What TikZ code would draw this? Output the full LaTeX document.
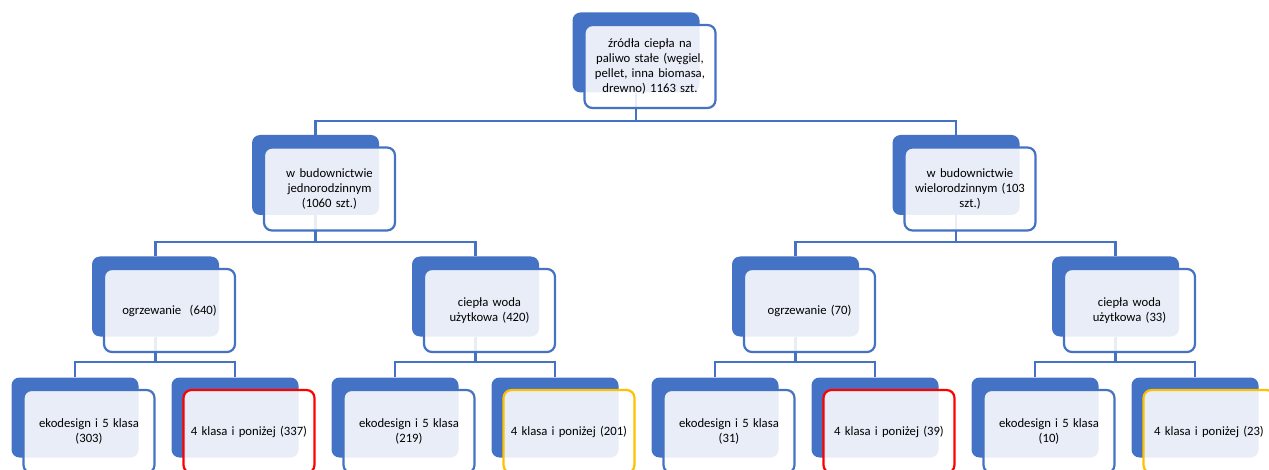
\documentclass[tikz,border=0pt]{standalone}
\usepackage{fontspec}
\setmainfont{Carlito}
\definecolor{obl}{HTML}{4472C4}
\definecolor{ored}{HTML}{FF0000}
\definecolor{oyel}{HTML}{FFC000}
\begin{document}
\begin{tikzpicture}[x=1pt,y=-1pt,
  backbox/.style={rounded corners=8pt, fill=obl, minimum width=127pt, minimum height=80pt, inner sep=0pt},
  frontbox/.style={rounded corners=8pt, draw=obl, line width=2.2pt, fill=white, fill opacity=0.88, text opacity=1,
    minimum width=131pt, minimum height=83pt, text width=127pt, align=center, inner sep=0pt,
    font=\fontsize{12.7}{15}\selectfont, text=black},
  redbox/.style={frontbox, draw=ored},
  yelbox/.style={frontbox, draw=oyel},
  conn/.style={draw=obl, line width=2.4pt}]
\useasboundingbox (0,0) rectangle (1269,470);
\clip (0,0) rectangle (1269,470);
% back boxes
\node[backbox] (b0) at (636,52.5) {};
\node[backbox] (bA) at (315.5,175) {};
\node[backbox] (bB) at (956,175) {};
\node[backbox] (bA1) at (155.5,296.5) {};
\node[backbox] (bA2) at (475.5,296.5) {};
\node[backbox] (bB1) at (795.5,296.5) {};
\node[backbox] (bB2) at (1115.5,296.5) {};
\node[backbox] (c1) at (75,417.5) {};
\node[backbox] (c2) at (235,417.5) {};
\node[backbox] (c3) at (395,417.5) {};
\node[backbox] (c4) at (555,417.5) {};
\node[backbox] (c5) at (715,417.5) {};
\node[backbox] (c6) at (875,417.5) {};
\node[backbox] (c7) at (1035,417.5) {};
\node[backbox] (c8) at (1195,417.5) {};
% connectors
\draw[conn] (b0.south) -- ++(0,28.5) -| (bA.north);
\draw[conn] (b0.south) -- ++(0,28.5) -| (bB.north);
\draw[conn] (bA.south) -- ++(0,27) -| (bA1.north);
\draw[conn] (bA.south) -- ++(0,27) -| (bA2.north);
\draw[conn] (bB.south) -- ++(0,27) -| (bB1.north);
\draw[conn] (bB.south) -- ++(0,27) -| (bB2.north);
\draw[conn] (bA1.south) -- ++(0,25.5) -| (c1.north);
\draw[conn] (bA1.south) -- ++(0,25.5) -| (c2.north);
\draw[conn] (bA2.south) -- ++(0,25.5) -| (c3.north);
\draw[conn] (bA2.south) -- ++(0,25.5) -| (c4.north);
\draw[conn] (bB1.south) -- ++(0,25.5) -| (c5.north);
\draw[conn] (bB1.south) -- ++(0,25.5) -| (c6.north);
\draw[conn] (bB2.south) -- ++(0,25.5) -| (c7.north);
\draw[conn] (bB2.south) -- ++(0,25.5) -| (c8.north);
% front boxes
\node[frontbox] (f0) at (650,66.5) {źródła ciepła na\\paliwo stałe (węgiel,\\pellet, inna biomasa,\\drewno) 1163 szt.};
\node[frontbox] (fA) at (329.5,189) {w budownictwie\\jednorodzinnym\\(1060 szt.)};
\node[frontbox] (fB) at (970,189) {w budownictwie\\wielorodzinnym (103\\szt.)};
\node[frontbox] (fA1) at (169.5,310.5) {ogrzewanie\ \ (640)};
\node[frontbox] (fA2) at (489.5,310.5) {ciepła woda\\użytkowa (420)};
\node[frontbox] (fB1) at (809.5,310.5) {ogrzewanie (70)};
\node[frontbox] (fB2) at (1129.5,310.5) {ciepła woda\\użytkowa (33)};
\node[frontbox] (g1) at (89,431.5) {ekodesign i 5 klasa\\(303)};
\node[redbox] (g2) at (249,431.5) {4 klasa i poniżej (337)};
\node[frontbox] (g3) at (409,431.5) {ekodesign i 5 klasa\\(219)};
\node[yelbox] (g4) at (569,431.5) {4 klasa i poniżej (201)};
\node[frontbox] (g5) at (729,431.5) {ekodesign i 5 klasa\\(31)};
\node[redbox] (g6) at (889,431.5) {4 klasa i poniżej (39)};
\node[frontbox] (g7) at (1049,431.5) {ekodesign i 5 klasa\\(10)};
\node[yelbox] (g8) at (1209,431.5) {4 klasa i poniżej (23)};
\end{tikzpicture}
\end{document}
